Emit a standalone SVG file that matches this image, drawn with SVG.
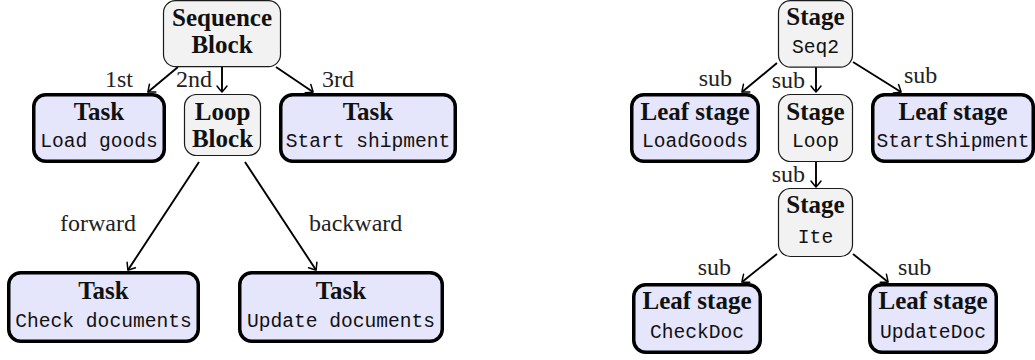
<svg xmlns="http://www.w3.org/2000/svg" width="1035" height="360" viewBox="0 0 1035 360">
<style>
.gray{fill:#f2f2f2;stroke:#1a1a1a;stroke-width:1.2}
.leaf{fill:#e5e5fc;stroke:#000;stroke-width:3.5}
.b{font-family:"Liberation Serif",serif;font-weight:bold;font-size:25px;text-anchor:middle;fill:#111}
.m{font-family:"Liberation Mono",monospace;font-size:19.6px;text-anchor:middle;fill:#111}
.l{font-family:"Liberation Serif",serif;font-size:24px;fill:#222}
.e{stroke:#000;stroke-width:1.9;fill:none;marker-end:url(#ah)}
</style>
<defs>
<marker id="ah" markerUnits="userSpaceOnUse" markerWidth="14" markerHeight="14" viewBox="-8 -7 10 14" refX="0" refY="0" orient="auto">
<path d="M-6,-5 Q-1.5,-1.5 0,0 Q-1.5,1.5 -6,5" fill="none" stroke="#000" stroke-width="1.5" stroke-linecap="round"/>
</marker>
</defs>
<g id="connectors">
<line class="e" x1="178" y1="67" x2="148" y2="92"/>
<line class="e" x1="222" y1="67" x2="222" y2="92"/>
<line class="e" x1="276" y1="67" x2="313" y2="92"/>
<line class="e" x1="199" y1="162" x2="128" y2="270"/>
<line class="e" x1="245" y1="162" x2="316" y2="270"/>
<line class="e" x1="777" y1="63" x2="742" y2="92"/>
<line class="e" x1="816" y1="67" x2="816" y2="92"/>
<line class="e" x1="853" y1="62" x2="901" y2="92"/>
<line class="e" x1="816" y1="162" x2="816" y2="187"/>
<line class="e" x1="777" y1="254" x2="742" y2="282"/>
<line class="e" x1="853" y1="254" x2="888" y2="282"/>
<text class="l" x="133" y="87" text-anchor="end">1st</text>
<text class="l" x="212" y="87" text-anchor="end">2nd</text>
<text class="l" x="322" y="87">3rd</text>
<text class="l" x="136" y="231" text-anchor="end">forward</text>
<text class="l" x="309" y="231">backward</text>
<text class="l" x="732" y="86" text-anchor="end">sub</text>
<text class="l" x="805" y="88" text-anchor="end">sub</text>
<text class="l" x="904" y="83">sub</text>
<text class="l" x="805" y="182" text-anchor="end">sub</text>
<text class="l" x="731" y="275" text-anchor="end">sub</text>
<text class="l" x="898" y="275">sub</text>
</g>
<g id="seq">
<rect class="gray" x="163.5" y="0.6" width="117" height="66" rx="12"/>
<text class="b" x="222" y="26">Sequence</text>
<text class="b" x="222" y="53">Block</text>
</g>
<g id="loadgoods">
<rect class="leaf" x="33.75" y="94.75" width="130.5" height="66.5" rx="12"/>
<text class="b" x="99" y="120">Task</text>
<text class="m" x="99" y="147">Load goods</text>
</g>
<g id="loop">
<rect class="gray" x="184.5" y="94.5" width="76" height="61" rx="12"/>
<text class="b" x="222.5" y="120">Loop</text>
<text class="b" x="222.5" y="147">Block</text>
</g>
<g id="startship">
<rect class="leaf" x="280.75" y="94.75" width="174.5" height="66.5" rx="12"/>
<text class="b" x="368" y="120">Task</text>
<text class="m" x="368" y="147">Start shipment</text>
</g>
<g id="checkdocs">
<rect class="leaf" x="8.75" y="272.75" width="189.5" height="68.5" rx="12"/>
<text class="b" x="103.5" y="299">Task</text>
<text class="m" x="103.5" y="327">Check documents</text>
</g>
<g id="updatedocs">
<rect class="leaf" x="239.75" y="272.75" width="202.5" height="68.5" rx="12"/>
<text class="b" x="341" y="299">Task</text>
<text class="m" x="341" y="327">Update documents</text>
</g>
<g id="seq2">
<rect class="gray" x="778.5" y="0.6" width="74" height="66.5" rx="12"/>
<text class="b" x="815.5" y="25">Stage</text>
<text class="m" x="815.5" y="53">Seq2</text>
</g>
<g id="leafload">
<rect class="leaf" x="631.75" y="94.75" width="126.5" height="66.5" rx="12"/>
<text class="b" x="695" y="120">Leaf stage</text>
<text class="m" x="695" y="147">LoadGoods</text>
</g>
<g id="stageloop">
<rect class="gray" x="778.5" y="94.5" width="74" height="67" rx="12"/>
<text class="b" x="815.5" y="120">Stage</text>
<text class="m" x="815.5" y="147">Loop</text>
</g>
<g id="leafstart">
<rect class="leaf" x="872.75" y="94.75" width="160.5" height="66.5" rx="12"/>
<text class="b" x="953" y="120">Leaf stage</text>
<text class="m" x="953" y="147">StartShipment</text>
</g>
<g id="ite">
<rect class="gray" x="778.5" y="188.5" width="74" height="68" rx="12"/>
<text class="b" x="815.5" y="213">Stage</text>
<text class="m" x="815.5" y="243">Ite</text>
</g>
<g id="leafcheck">
<rect class="leaf" x="633.75" y="284.75" width="126.5" height="67.5" rx="12"/>
<text class="b" x="697" y="309">Leaf stage</text>
<text class="m" x="697" y="338">CheckDoc</text>
</g>
<g id="leafupdate">
<rect class="leaf" x="869.75" y="284.75" width="126.5" height="67.5" rx="12"/>
<text class="b" x="933" y="309">Leaf stage</text>
<text class="m" x="933" y="338">UpdateDoc</text>
</g>
</svg>
